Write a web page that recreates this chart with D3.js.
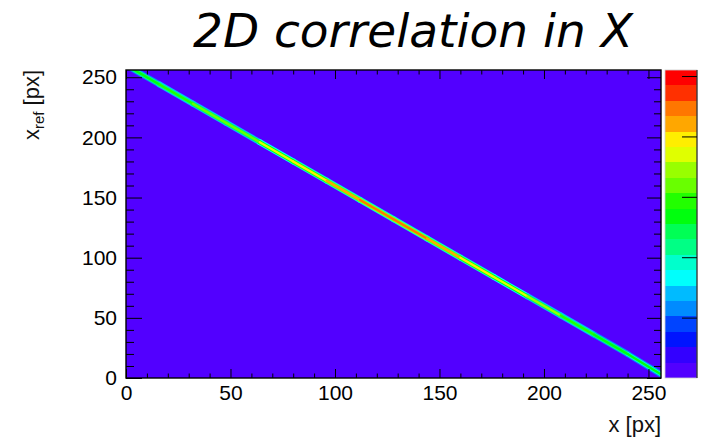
<!doctype html>
<html lang="en">
  <head>
    <meta charset="utf-8">
    <title>2D correlation in X</title>
    <script src="https://d3js.org/d3.v7.min.js"></script>
    <style>
      body { margin: 0; background: #fff; }
      text { font-family: "Liberation Sans", Arial, sans-serif; }
    </style>
  </head>

  <body>
    <svg width="702" height="440"></svg>

    <script>
      // data
      var xMajor = [0, 50, 100, 150, 200, 250];
      var yMajor = [0, 50, 100, 150, 200, 250];
      var zMajor = [10, 20, 30, 40, 50];
      // points along the diagonal ridge (x, x_ref) and its peak content
      var ridgeX = [0, 16, 32, 48, 64, 80, 96, 112, 128, 144, 160, 176, 192, 208, 224, 240, 256];
      var ridgeXref = [260, 244, 228, 212, 196, 180, 164, 148, 132, 116, 100, 84, 68, 52, 36, 20, 3];
      var ridgeZ = [27, 29, 30, 32, 34, 39, 42, 44, 45, 44, 42, 39, 35, 32, 29, 27, 24];
      var emptyZ = 1;
      var zMax = 51;

      // palette, 20 contour levels (violet -> red)
      var palette = ["#5200ff", "#3300ff", "#0014ff", "#0044ff", "#008bff", "#00bbff", "#00fffc", "#00ffcc",
                     "#00ff85", "#00ff55", "#00ff0e", "#22ff00", "#69ff00", "#99ff00", "#e0ff00", "#ffee00",
                     "#ffa700", "#ff7700", "#ff3000", "#ff0000"];

      var svg = d3.select('svg');
      var L = 126, R = 661, T = 70, B = 378;

      var x = d3.scaleLinear().domain([0, 256]).range([L, R]);
      var y = d3.scaleLinear().domain([0, 256]).range([B, T]);
      var z = d3.scaleLinear().domain([0, zMax]).range([B, T]);
      var color = d3.scaleQuantize().domain([0, zMax]).range(palette);

      svg.append('clipPath').attr('id', 'frame')
        .append('rect').attr('x', L).attr('y', T).attr('width', R - L).attr('height', B - T);

      // empty bins
      svg.append('rect')
          .attr('x', L).attr('y', T).attr('width', R - L).attr('height', B - T)
          .attr('fill', color(emptyZ));

      // ridge, drawn as three bands (tails to core)
      var pts = ridgeX.map(function(d, i){ return {x: d, r: ridgeXref[i], z: ridgeZ[i]}; });
      var segs = d3.pairs(pts);
      var layers = [{w: 6, f: 0.45}, {w: 4, f: 0.75}, {w: 2.2, f: 1}];
      var g = svg.append('g').attr('clip-path', 'url(#frame)');
      layers.forEach(function(l){
        g.selectAll(null).data(segs).enter()
          .append('line')
            .attr('x1', function(d){ return x(d[0].x); })
            .attr('y1', function(d){ return y(d[0].r); })
            .attr('x2', function(d){ return x(d[1].x); })
            .attr('y2', function(d){ return y(d[1].r); })
            .attr('stroke', function(d){ return color((d[0].z + d[1].z) / 2 * l.f); })
            .attr('stroke-width', l.w)
            .attr('stroke-linecap', 'round');
      });

      var minorOf = function(maj){
        return d3.range(0, 257, 10).filter(function(v){ return maj.indexOf(v) < 0; });
      };

      var tickAxis = function(axis, transform, vals, size, labels){
        var a = svg.append('g').attr('transform', transform)
          .call(axis.tickValues(vals).tickSize(size).tickPadding(labels ? 7 : 0)
                .tickFormat(labels ? d3.format('d') : ''));
        a.select('.domain').remove();
        a.selectAll('line').attr('stroke', '#000');
        a.selectAll('text').attr('font-size', 21).attr('fill', '#000').attr('font-family', null);
        return a;
      };

      // bottom / left with labels, top / right ticks only
      tickAxis(d3.axisBottom(x), 'translate(0,' + B + ')', xMajor, -9, true)
        .selectAll('text').attr('dy', '0.7em');
      tickAxis(d3.axisBottom(x), 'translate(0,' + B + ')', minorOf(xMajor), -4.5, false);
      tickAxis(d3.axisTop(x), 'translate(0,' + T + ')', xMajor, -9, false);
      tickAxis(d3.axisTop(x), 'translate(0,' + T + ')', minorOf(xMajor), -4.5, false);
      tickAxis(d3.axisLeft(y), 'translate(' + L + ',0)', yMajor, -16, true)
        .selectAll('text').attr('dx', '-2');
      tickAxis(d3.axisLeft(y), 'translate(' + L + ',0)', minorOf(yMajor), -8, false);
      tickAxis(d3.axisRight(y), 'translate(' + R + ',0)', yMajor, -14, false);
      tickAxis(d3.axisRight(y), 'translate(' + R + ',0)', minorOf(yMajor), -7, false);

      svg.append('rect')
          .attr('x', L).attr('y', T).attr('width', R - L).attr('height', B - T)
          .attr('fill', 'none').attr('stroke', '#000').attr('stroke-width', 1.4);

      // palette
      var PL = 665, PR = 697;
      var step = zMax / palette.length;
      svg.selectAll('.pal').data(palette).enter()
        .append('rect')
          .attr('class', 'pal')
          .attr('x', PL).attr('width', PR - PL)
          .attr('y', function(d, i){ return z((i + 1) * step); })
          .attr('height', function(d, i){ return z(i * step) - z((i + 1) * step); })
          .attr('fill', function(d){ return d; })
          .attr('shape-rendering', 'crispEdges');
      svg.append('rect')
          .attr('x', PL).attr('y', T).attr('width', PR - PL).attr('height', B - T)
          .attr('fill', 'none').attr('stroke', '#ccc').attr('stroke-width', 0.8);
      tickAxis(d3.axisRight(z), 'translate(' + PR + ',0)', zMajor, -15, false);
      svg.append('line').attr('x1', PR).attr('x2', PR).attr('y1', T).attr('y2', B)
          .attr('stroke', '#000');

      // titles
      svg.append('text')
          .attr('x', 413).attr('y', 47)
          .attr('text-anchor', 'middle')
          .style('font-family', '"DejaVu Sans", sans-serif')
          .style('font-style', 'italic')
          .attr('font-size', 47)
          .attr('fill', '#000')
          .text('2D correlation in X');

      svg.append('text')
          .attr('x', R).attr('y', 432)
          .attr('text-anchor', 'end')
          .attr('font-size', 22)
          .attr('fill', '#111')
          .text('x [px]');

      var yt = svg.append('text')
          .attr('transform', 'translate(39,' + T + ') rotate(-90)')
          .attr('text-anchor', 'end')
          .attr('font-size', 22)
          .attr('fill', '#111');
      yt.append('tspan').text('x');
      yt.append('tspan').attr('font-size', 15).attr('dy', 5).text('ref');
      yt.append('tspan').attr('dy', -5).text(' [px]');
    </script>
  </body>
</html>
